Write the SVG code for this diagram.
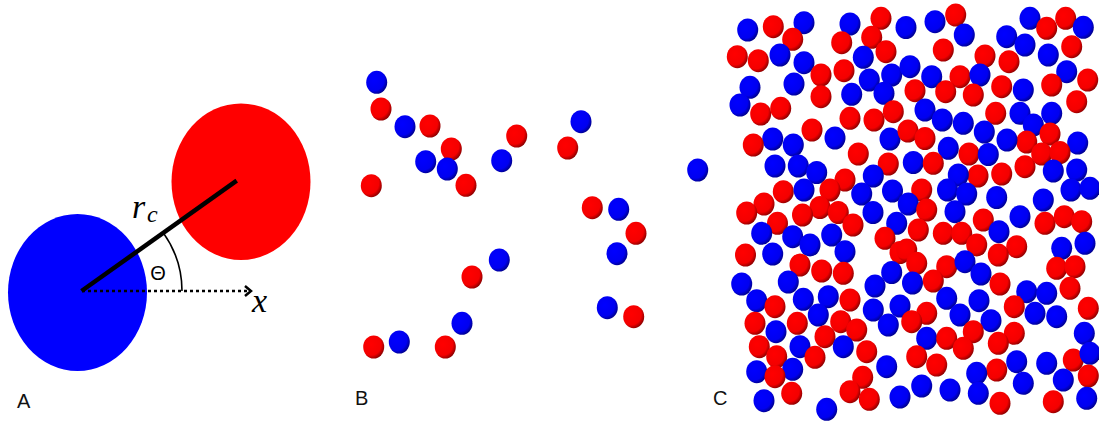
<svg xmlns="http://www.w3.org/2000/svg" xmlns:xlink="http://www.w3.org/1999/xlink" width="1099" height="421" viewBox="0 0 1099 421">
  <style>
    .lbl { font-family: "Liberation Sans", Arial, sans-serif; font-size: 20px; fill: #111; }
    .math { font-family: "Liberation Serif", "Times New Roman", serif; font-style: italic; fill: #000; }
  </style>
  <defs>
    <!-- shaded spheres: bright centre, darker lower-right rim -->
    <radialGradient id="gr" cx="0.38" cy="0.38" r="0.66">
      <stop offset="0" stop-color="#ff0000"/>
      <stop offset="0.72" stop-color="#f40000"/>
      <stop offset="1" stop-color="#8a0000"/>
    </radialGradient>
    <radialGradient id="gb" cx="0.38" cy="0.38" r="0.66">
      <stop offset="0" stop-color="#0000ff"/>
      <stop offset="0.72" stop-color="#0000f0"/>
      <stop offset="1" stop-color="#00008a"/>
    </radialGradient>
    <ellipse id="r" cx="0" cy="0" rx="10.5" ry="11.5" fill="url(#gr)"/>
    <ellipse id="b" cx="0" cy="0" rx="10.5" ry="11.5" fill="url(#gb)"/>
  </defs>
  <rect width="1099" height="421" fill="#fff"/>

  <!-- Panel A: a dimer with separation r_c and angle to the x axis -->
  <g id="panelA">
    <ellipse id="particleBlue" cx="77.5" cy="292.5" rx="69.5" ry="78.5" fill="#0000ff"/>
    <ellipse id="particleRed" cx="241" cy="181.7" rx="69.5" ry="78.3" fill="#ff0000"/>
    <g id="connectors" fill="none" stroke="#000">
      <line x1="81.5" y1="291" x2="236.7" y2="180.7" stroke-width="4.5"/>
      <line x1="82" y1="291" x2="249" y2="291" stroke-width="2.5" stroke-dasharray="3 3"/>
      <polyline points="245,286 251,291 245,296" stroke-width="2.5"/>
      <path d="M182 291 A100 100 0 0 0 163.5 233.1" stroke-width="1.6"/>
    </g>
    <text class="math" x="132" y="218" font-size="34">r</text>
    <text class="math" x="147" y="222" font-size="24">c</text>
    <text x="158" y="280" font-family="Liberation Sans, Arial, sans-serif" font-size="20" text-anchor="middle">Θ</text>
    <text class="math" x="252" y="312" font-size="34">x</text>
    <text class="lbl" x="17" y="408">A</text>
  </g>

  <!-- Panel B: dilute configuration -->
  <g id="panelB">
    <use xlink:href="#b" x="376.7" y="82.3"/>
    <use xlink:href="#r" x="381" y="109"/>
    <use xlink:href="#b" x="405" y="126.7"/>
    <use xlink:href="#r" x="430" y="126"/>
    <use xlink:href="#r" x="451.3" y="149"/>
    <use xlink:href="#b" x="425.7" y="161.7"/>
    <use xlink:href="#b" x="447.3" y="169"/>
    <use xlink:href="#r" x="466" y="185.3"/>
    <use xlink:href="#r" x="371.3" y="185.7"/>
    <use xlink:href="#r" x="516.7" y="136"/>
    <use xlink:href="#b" x="501.7" y="160.7"/>
    <use xlink:href="#b" x="581" y="121.7"/>
    <use xlink:href="#r" x="567.7" y="148"/>
    <use xlink:href="#b" x="697.7" y="170"/>
    <use xlink:href="#r" x="592.3" y="207.7"/>
    <use xlink:href="#b" x="618.7" y="209.3"/>
    <use xlink:href="#r" x="636" y="233.3"/>
    <use xlink:href="#b" x="617" y="253.7"/>
    <use xlink:href="#b" x="499.3" y="260"/>
    <use xlink:href="#r" x="472" y="277"/>
    <use xlink:href="#b" x="462" y="323.3"/>
    <use xlink:href="#r" x="445.3" y="347"/>
    <use xlink:href="#b" x="399.3" y="342"/>
    <use xlink:href="#r" x="373.7" y="347"/>
    <use xlink:href="#b" x="607.3" y="307.7"/>
    <use xlink:href="#r" x="633.7" y="316.7"/>
    <text class="lbl" x="355" y="405">B</text>
  </g>

  <!-- Panel C: dense configuration -->
  <g id="panelC">
    <!-- top band -->
    <use xlink:href="#b" x="747.7" y="30"/>
    <use xlink:href="#r" x="773.3" y="26.7"/>
    <use xlink:href="#b" x="804" y="22.7"/>
    <use xlink:href="#r" x="792.7" y="39.3"/>
    <use xlink:href="#r" x="737.3" y="56.7"/>
    <use xlink:href="#r" x="758.3" y="60.7"/>
    <use xlink:href="#b" x="780" y="55"/>
    <use xlink:href="#b" x="804" y="62.7"/>
    <use xlink:href="#b" x="850" y="24"/>
    <use xlink:href="#r" x="881" y="18.3"/>
    <use xlink:href="#r" x="841.7" y="42.7"/>
    <use xlink:href="#r" x="871.7" y="37.3"/>
    <use xlink:href="#b" x="906" y="27.5"/>
    <use xlink:href="#b" x="863.3" y="57.3"/>
    <use xlink:href="#r" x="886" y="51.7"/>
    <use xlink:href="#r" x="821" y="75"/>
    <use xlink:href="#r" x="844" y="70.7"/>
    <use xlink:href="#b" x="794" y="84"/>
    <use xlink:href="#b" x="750" y="87.3"/>
    <use xlink:href="#b" x="740" y="105"/>
    <use xlink:href="#r" x="760.7" y="114"/>
    <use xlink:href="#r" x="780.7" y="108.3"/>
    <use xlink:href="#r" x="821" y="96.7"/>
    <use xlink:href="#b" x="851.7" y="94.3"/>
    <use xlink:href="#b" x="869.3" y="80"/>
    <use xlink:href="#b" x="891.7" y="75"/>
    <use xlink:href="#b" x="884" y="93.3"/>
    <use xlink:href="#b" x="910" y="66.7"/>
    <use xlink:href="#r" x="893.3" y="111.7"/>
    <use xlink:href="#r" x="850" y="118.3"/>
    <use xlink:href="#r" x="874" y="120"/>
    <use xlink:href="#r" x="812" y="130"/>
    <use xlink:href="#b" x="835" y="138"/>
    <use xlink:href="#b" x="772.7" y="139"/>
    <use xlink:href="#r" x="753.3" y="145"/>
    <use xlink:href="#b" x="793.3" y="145"/>
    <use xlink:href="#b" x="890" y="139"/>
    <use xlink:href="#r" x="908" y="131"/>
    <use xlink:href="#b" x="935" y="21.7"/>
    <use xlink:href="#r" x="955.7" y="15"/>
    <use xlink:href="#b" x="964.3" y="35"/>
    <use xlink:href="#r" x="943.3" y="50"/>
    <use xlink:href="#b" x="1006.7" y="36.7"/>
    <use xlink:href="#b" x="1030" y="18.3"/>
    <use xlink:href="#r" x="1065.7" y="18.3"/>
    <use xlink:href="#r" x="1046.7" y="28.3"/>
    <use xlink:href="#b" x="1083.3" y="27.3"/>
    <use xlink:href="#b" x="1025" y="45"/>
    <use xlink:href="#r" x="1071.7" y="46.7"/>
    <use xlink:href="#b" x="1048.3" y="55"/>
    <use xlink:href="#r" x="985" y="56"/>
    <use xlink:href="#r" x="1009" y="61.7"/>
    <use xlink:href="#b" x="931.7" y="76.7"/>
    <use xlink:href="#r" x="960" y="76.7"/>
    <use xlink:href="#b" x="980" y="75"/>
    <use xlink:href="#r" x="915" y="90.7"/>
    <use xlink:href="#r" x="945.7" y="91.7"/>
    <use xlink:href="#r" x="973.3" y="95"/>
    <use xlink:href="#r" x="1001.7" y="86.7"/>
    <use xlink:href="#b" x="1023.3" y="90"/>
    <use xlink:href="#b" x="1066.7" y="71.7"/>
    <use xlink:href="#r" x="1087.7" y="80"/>
    <use xlink:href="#r" x="1051.7" y="85"/>
    <use xlink:href="#r" x="1076.7" y="101.7"/>
    <use xlink:href="#b" x="925" y="110"/>
    <use xlink:href="#b" x="942.3" y="120"/>
    <use xlink:href="#b" x="963.3" y="123.3"/>
    <use xlink:href="#r" x="995.7" y="113.3"/>
    <use xlink:href="#b" x="1020" y="113.3"/>
    <use xlink:href="#b" x="1051.7" y="113.3"/>
    <use xlink:href="#b" x="1033.3" y="125"/>
    <use xlink:href="#b" x="984.3" y="132"/>
    <use xlink:href="#r" x="925" y="138.5"/>
    <use xlink:href="#r" x="1050" y="134"/>
    <use xlink:href="#r" x="1026.7" y="142"/>
    <use xlink:href="#b" x="1007" y="140"/>
    <use xlink:href="#b" x="1077.7" y="143"/>
    <use xlink:href="#b" x="948.3" y="148.3"/>
    <!-- middle band -->
    <use xlink:href="#r" x="858.3" y="154"/>
    <use xlink:href="#r" x="888.3" y="164"/>
    <use xlink:href="#b" x="775" y="166"/>
    <use xlink:href="#b" x="798.3" y="166"/>
    <use xlink:href="#b" x="816.7" y="172.5"/>
    <use xlink:href="#b" x="873.3" y="176"/>
    <use xlink:href="#r" x="783.3" y="191.7"/>
    <use xlink:href="#b" x="804" y="190"/>
    <use xlink:href="#r" x="845" y="180"/>
    <use xlink:href="#r" x="830" y="190"/>
    <use xlink:href="#b" x="861.7" y="194"/>
    <use xlink:href="#b" x="892.5" y="191"/>
    <use xlink:href="#r" x="764" y="204"/>
    <use xlink:href="#r" x="746.7" y="213"/>
    <use xlink:href="#r" x="820" y="207.5"/>
    <use xlink:href="#r" x="802.5" y="215"/>
    <use xlink:href="#r" x="838.3" y="212.5"/>
    <use xlink:href="#r" x="853" y="225"/>
    <use xlink:href="#b" x="873" y="212.5"/>
    <use xlink:href="#b" x="896.7" y="223.3"/>
    <use xlink:href="#r" x="777.5" y="223.3"/>
    <use xlink:href="#b" x="761.7" y="233.3"/>
    <use xlink:href="#b" x="792.7" y="236.7"/>
    <use xlink:href="#b" x="831.7" y="235"/>
    <use xlink:href="#b" x="810" y="245"/>
    <use xlink:href="#r" x="885" y="238.3"/>
    <use xlink:href="#r" x="745.5" y="255"/>
    <use xlink:href="#b" x="772.7" y="254"/>
    <use xlink:href="#b" x="845" y="251.7"/>
    <use xlink:href="#r" x="900" y="252.5"/>
    <use xlink:href="#r" x="800" y="265"/>
    <use xlink:href="#r" x="821.7" y="271"/>
    <use xlink:href="#r" x="843.3" y="273.3"/>
    <use xlink:href="#b" x="891.7" y="272.5"/>
    <use xlink:href="#b" x="913.3" y="162.5"/>
    <use xlink:href="#r" x="933.3" y="163.3"/>
    <use xlink:href="#r" x="969" y="154"/>
    <use xlink:href="#b" x="988.3" y="154.5"/>
    <use xlink:href="#r" x="1025" y="166.7"/>
    <use xlink:href="#r" x="1041.7" y="154"/>
    <use xlink:href="#r" x="1060" y="152.5"/>
    <use xlink:href="#b" x="1053.3" y="171"/>
    <use xlink:href="#b" x="1076.7" y="170"/>
    <use xlink:href="#r" x="978" y="176"/>
    <use xlink:href="#r" x="1001.7" y="174"/>
    <use xlink:href="#b" x="958.3" y="175"/>
    <use xlink:href="#b" x="947.5" y="190"/>
    <use xlink:href="#b" x="966.7" y="194"/>
    <use xlink:href="#r" x="921.7" y="190"/>
    <use xlink:href="#b" x="996.7" y="197.5"/>
    <use xlink:href="#b" x="1043.3" y="200"/>
    <use xlink:href="#b" x="1071" y="190"/>
    <use xlink:href="#b" x="1090" y="188.3"/>
    <use xlink:href="#b" x="908.3" y="204"/>
    <use xlink:href="#r" x="926.7" y="210"/>
    <use xlink:href="#b" x="955" y="211.7"/>
    <use xlink:href="#r" x="983.3" y="220"/>
    <use xlink:href="#b" x="1020" y="216.7"/>
    <use xlink:href="#r" x="1045" y="223.3"/>
    <use xlink:href="#r" x="1064.3" y="216.7"/>
    <use xlink:href="#r" x="1081.7" y="221.7"/>
    <use xlink:href="#r" x="918.3" y="230"/>
    <use xlink:href="#r" x="943.3" y="233.3"/>
    <use xlink:href="#r" x="961.7" y="233.3"/>
    <use xlink:href="#b" x="999" y="231.7"/>
    <use xlink:href="#r" x="976.7" y="245"/>
    <use xlink:href="#r" x="1016.7" y="246.7"/>
    <use xlink:href="#r" x="998.3" y="255"/>
    <use xlink:href="#b" x="1061.7" y="248.3"/>
    <use xlink:href="#b" x="1085" y="243.3"/>
    <use xlink:href="#r" x="906.7" y="250"/>
    <use xlink:href="#r" x="916.7" y="263.3"/>
    <use xlink:href="#r" x="946.7" y="266.7"/>
    <use xlink:href="#b" x="965" y="261.7"/>
    <use xlink:href="#b" x="981" y="274"/>
    <use xlink:href="#r" x="1056.7" y="268.3"/>
    <use xlink:href="#r" x="1075" y="266.7"/>
    <!-- bottom band -->
    <use xlink:href="#b" x="741.7" y="284"/>
    <use xlink:href="#b" x="788.3" y="282"/>
    <use xlink:href="#b" x="875" y="286"/>
    <use xlink:href="#b" x="756.7" y="300.7"/>
    <use xlink:href="#r" x="775" y="306.7"/>
    <use xlink:href="#b" x="803.3" y="299.3"/>
    <use xlink:href="#b" x="828.3" y="296.7"/>
    <use xlink:href="#r" x="850" y="300"/>
    <use xlink:href="#b" x="818.3" y="315"/>
    <use xlink:href="#b" x="873.3" y="310"/>
    <use xlink:href="#b" x="900" y="306"/>
    <use xlink:href="#r" x="755" y="323.3"/>
    <use xlink:href="#b" x="776" y="331.7"/>
    <use xlink:href="#r" x="797.3" y="323.3"/>
    <use xlink:href="#r" x="840.7" y="321.7"/>
    <use xlink:href="#r" x="856.7" y="330"/>
    <use xlink:href="#b" x="888.3" y="325"/>
    <use xlink:href="#r" x="759.3" y="346.7"/>
    <use xlink:href="#r" x="825" y="336.7"/>
    <use xlink:href="#b" x="800" y="346.7"/>
    <use xlink:href="#b" x="843.3" y="346.7"/>
    <use xlink:href="#r" x="866.7" y="351.7"/>
    <use xlink:href="#r" x="776.7" y="356.7"/>
    <use xlink:href="#r" x="815" y="357.3"/>
    <use xlink:href="#b" x="756.7" y="371.7"/>
    <use xlink:href="#b" x="792.7" y="369.3"/>
    <use xlink:href="#r" x="775" y="376.7"/>
    <use xlink:href="#b" x="886.7" y="366.7"/>
    <use xlink:href="#r" x="862.7" y="377.3"/>
    <use xlink:href="#r" x="850" y="391.7"/>
    <use xlink:href="#r" x="869.3" y="399.3"/>
    <use xlink:href="#r" x="791.7" y="393.3"/>
    <use xlink:href="#b" x="764" y="400.7"/>
    <use xlink:href="#b" x="826.7" y="409.3"/>
    <use xlink:href="#b" x="900" y="397"/>
    <use xlink:href="#b" x="912.5" y="283"/>
    <use xlink:href="#r" x="933.3" y="281"/>
    <use xlink:href="#r" x="1000" y="284"/>
    <use xlink:href="#b" x="1026.7" y="291.7"/>
    <use xlink:href="#b" x="1046.7" y="293.3"/>
    <use xlink:href="#r" x="1070" y="288.3"/>
    <use xlink:href="#b" x="946.7" y="298.3"/>
    <use xlink:href="#b" x="979" y="300.7"/>
    <use xlink:href="#r" x="1014.3" y="306.7"/>
    <use xlink:href="#r" x="1088.3" y="308.3"/>
    <use xlink:href="#r" x="926.7" y="313.3"/>
    <use xlink:href="#r" x="911.7" y="321.7"/>
    <use xlink:href="#b" x="960" y="315"/>
    <use xlink:href="#b" x="991" y="320.7"/>
    <use xlink:href="#b" x="1035" y="313.3"/>
    <use xlink:href="#b" x="1056.7" y="316.7"/>
    <use xlink:href="#r" x="973.3" y="331.7"/>
    <use xlink:href="#r" x="1014.3" y="333.3"/>
    <use xlink:href="#b" x="1084.3" y="333.3"/>
    <use xlink:href="#b" x="926.7" y="338.3"/>
    <use xlink:href="#r" x="946.7" y="338.3"/>
    <use xlink:href="#r" x="963.3" y="348.3"/>
    <use xlink:href="#r" x="998.3" y="343.3"/>
    <use xlink:href="#r" x="916.7" y="356.7"/>
    <use xlink:href="#r" x="936.7" y="365"/>
    <use xlink:href="#b" x="1016.7" y="361.7"/>
    <use xlink:href="#b" x="1046.7" y="363.3"/>
    <use xlink:href="#r" x="1073.3" y="360"/>
    <use xlink:href="#b" x="1090" y="353.3"/>
    <use xlink:href="#r" x="996.7" y="370"/>
    <use xlink:href="#b" x="976.7" y="373.3"/>
    <use xlink:href="#b" x="1063.3" y="380"/>
    <use xlink:href="#r" x="1088.3" y="376"/>
    <use xlink:href="#b" x="921.7" y="386"/>
    <use xlink:href="#b" x="950" y="390"/>
    <use xlink:href="#b" x="1023.3" y="383.3"/>
    <use xlink:href="#b" x="978.3" y="393.3"/>
    <use xlink:href="#r" x="1000" y="403.3"/>
    <use xlink:href="#r" x="1053.3" y="401.7"/>
    <use xlink:href="#b" x="1086.7" y="398.3"/>
    <text class="lbl" x="713" y="405">C</text>
  </g>
</svg>
